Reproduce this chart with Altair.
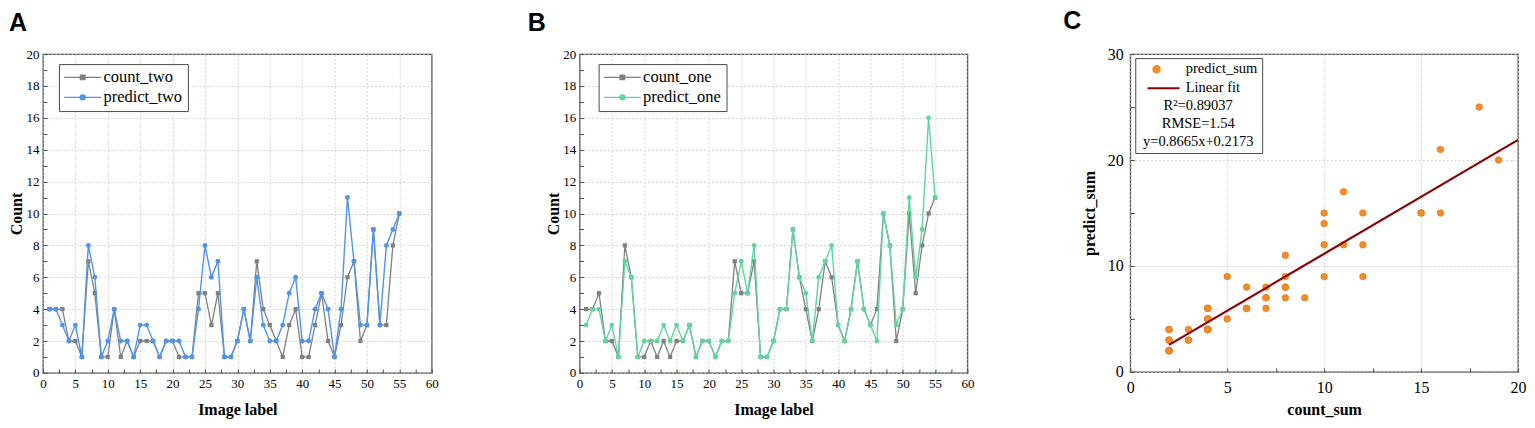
import altair as alt
import pandas as pd

# ---------------- data ----------------
image_label = list(range(1, 56))
count_two = [4,4,4,2,2,1,7,5,1,1,4,1,2,1,2,2,2,1,2,2,1,1,1,5,5,3,5,1,1,2,
             4,2,7,4,3,2,1,3,4,1,1,3,5,2,1,3,6,7,2,3,9,3,3,8,10]
predict_two = [4,4,3,2,3,1,8,6,1,2,4,2,2,1,3,3,2,1,2,2,2,1,1,4,8,6,7,1,1,2,
               4,2,6,3,2,2,3,5,6,2,2,4,5,4,1,4,11,7,3,3,9,3,8,9,10]
count_one = [4,4,5,2,2,1,8,6,1,1,2,1,2,1,2,2,3,1,2,2,1,2,2,7,5,5,7,1,1,2,
             4,4,9,6,4,2,4,7,6,3,2,4,7,4,3,4,10,8,2,4,10,5,8,10,11]
predict_one = [3,4,4,2,3,1,7,6,1,2,2,2,3,2,3,2,3,1,2,2,1,2,2,5,7,5,8,1,1,2,
               4,4,9,6,5,2,6,7,8,3,2,4,7,4,3,2,10,8,3,4,11,6,9,16,11]
count_sum = [8,8,9,4,4,2,15,11,2,2,6,2,4,2,4,4,5,2,4,4,2,3,3,12,10,8,12,2,2,4,
             8,6,16,10,7,4,5,10,10,4,3,7,12,6,4,7,16,15,4,7,19,8,11,18,21]
predict_sum = [7,8,7,4,6,2,15,12,2,4,6,4,5,3,6,5,5,2,4,4,3,3,3,9,15,11,15,2,2,4,
               8,6,15,9,7,4,9,12,14,5,4,8,12,8,4,6,21,15,6,7,20,9,17,25,21]
fit_x = [2, 20]
fit_y = [2.55, 21.9]
fit_text = ["R\u00b2=0.89037", "RMSE=1.54", "y=0.8665x+0.2173"]

# ---------------- styles ----------------
SERIF = "Liberation Serif"
SANS = "Liberation Sans"
GRID = "#c8c8c8"
FRAME = "#4a4a4a"
GRAY = "#808080"
BLUE = "#4f94ee"
GREEN = "#5fd69c"
ORANGE = "#f28c28"
DARKRED = "#8b0000"

LINE_SQUARE = "M-1.6,0H5.8M1.65,-0.45H2.55V0.45H1.65Z"
LINE_CIRCLE = "M-1.6,0H5.8M2.6,0A0.5,0.5,0,1,1,1.6,0A0.5,0.5,0,1,1,2.6,0Z"
DOT = "M2.65,0A0.65,0.65,0,1,1,1.35,0A0.65,0.65,0,1,1,2.65,0Z"
LINE_ONLY = "M0.2,0H6.6"


def main_axis(values, title, lsize, title_pad, lab_pad):
    return alt.Axis(values=values, title=title, grid=True, gridColor=GRID,
                    gridDash=[2, 2], gridWidth=0.8, domain=False, ticks=False,
                    labelFont=SERIF, labelFontSize=lsize, labelColor="black",
                    labelPadding=lab_pad, labelFlush=False, labelOverlap=False,
                    titleFont=SERIF, titleFontSize=16, titleFontWeight="bold",
                    titleColor="black", titlePadding=title_pad)


def tick_axis(values, orient):
    return alt.Axis(values=values, labels=False, grid=False, domain=False,
                    ticks=True, tickSize=4, tickColor=FRAME, tickWidth=1,
                    offset=-4, title=None, orient=orient)


def letter_title(letter, dx):
    return alt.TitleParams(text=letter, anchor="start", frame="bounds", font=SANS,
                           fontSize=25, fontWeight="bold", color="black",
                           offset=12, dx=dx)


def line_panel(letter, key, cname, pname, cvals, pvals, pcolor, leg_x, leg_y, dx, width):
    df = pd.DataFrame({"label": image_label, "c": cvals, "p": pvals})
    xa = main_axis(list(range(0, 61, 5)), "Image label", 13, 11, 5)
    ya = main_axis(list(range(0, 21, 2)), "Count", 13, 1, 4)
    X = alt.X("label:Q", scale=alt.Scale(domain=[0, 60], nice=False), axis=xa)
    ysc = alt.Scale(domain=[0, 20], nice=False)
    base = alt.Chart(df)
    gl = base.mark_line(color=GRAY, strokeWidth=1.3).encode(
        x=X, y=alt.Y("c:Q", scale=ysc, axis=ya))
    gp = base.mark_point(shape="square", filled=True, size=18, color=GRAY,
                         opacity=1).encode(x=X, y=alt.Y("c:Q", scale=ysc, axis=ya))
    pl = base.mark_line(color=pcolor, strokeWidth=1.4).encode(
        x=X, y=alt.Y("p:Q", scale=ysc, axis=ya))
    pp = base.mark_point(shape="circle", filled=True, size=24, color=pcolor,
                         opacity=1).encode(x=X, y=alt.Y("p:Q", scale=ysc, axis=ya))
    main = alt.layer(gl, gp, pl, pp)

    dom = [cname, pname]
    field = "series_" + key + ":N"
    leg = alt.Legend(title=None, orient="none", legendX=leg_x, legendY=leg_y,
                     strokeColor=FRAME, fillColor="white", padding=5,
                     symbolSize=100, symbolStrokeWidth=1.4, labelOffset=23,
                     labelFont=SERIF, labelFontSize=16.5, labelColor="black",
                     labelExpr="datum.label + '   '",
                     rowPadding=3, symbolOpacity=1)
    aux = base.mark_point(opacity=1).encode(
        x=alt.X("label:Q", axis=tick_axis([i * 2.5 for i in range(25)], "bottom")),
        y=alt.Y("c:Q", axis=tick_axis(list(range(0, 21)), "left")),
        fill=alt.Fill(field, scale=alt.Scale(domain=dom, range=[GRAY, pcolor]), legend=leg),
        stroke=alt.Stroke(field, scale=alt.Scale(domain=dom, range=[GRAY, pcolor]), legend=leg),
        shape=alt.Shape(field, scale=alt.Scale(domain=dom, range=[LINE_SQUARE, LINE_CIRCLE]), legend=leg),
    ).transform_filter("false")

    return alt.layer(main, aux).resolve_axis(x="independent", y="independent").properties(
        width=width, height=319, title=letter_title(letter, dx))


panel_a = line_panel("A", "a", "count_two", "predict_two", count_two, predict_two, BLUE,
                     16, 10, 0, 389)
panel_b = line_panel("B", "b", "count_one", "predict_one", count_one, predict_one, GREEN,
                     19, 10, -18, 388)

# ---------------- panel C ----------------
df_c = pd.DataFrame({"count_sum": count_sum, "predict_sum": predict_sum})
df_fit = pd.DataFrame({"count_sum": fit_x, "predict_sum": fit_y})
xc = main_axis([0, 5, 10, 15, 20], "count_sum", 16, 6, 8)
yc = main_axis([0, 10, 20, 30], "predict_sum", 16, 10, 7)
XC = alt.X("count_sum:Q", scale=alt.Scale(domain=[0, 20], nice=False), axis=xc)
YC = alt.Y("predict_sum:Q", scale=alt.Scale(domain=[0, 30], nice=False), axis=yc)
pts = alt.Chart(df_c).mark_point(shape="circle", filled=True, size=44, fill=ORANGE,
                                 stroke="#e07610", strokeWidth=0.6, opacity=1,
                                 clip=True).encode(x=XC, y=YC)
fit = alt.Chart(df_fit).mark_line(color=DARKRED, strokeWidth=2.2).encode(x=XC, y=YC)
main_c = alt.layer(pts, fit)
dom_c = ["predict_sum", "Linear fit"]
leg_c = alt.Legend(title=fit_text, titleOrient="bottom", titleAnchor="middle",
                   titleFont=SERIF, titleFontSize=14.5, titleFontWeight="normal",
                   titleColor="black", titleLineHeight=18, titlePadding=4,
                   orient="none", legendX=5, legendY=4,
                   strokeColor=FRAME, fillColor="white", padding=4,
                   symbolSize=100, symbolStrokeWidth=2, labelOffset=32,
                   labelFont=SERIF, labelFontSize=14.5, labelColor="black",
                   rowPadding=3, symbolOpacity=1)
aux_c = alt.Chart(df_c).mark_point(opacity=1).encode(
    x=alt.X("count_sum:Q", axis=tick_axis([i * 2.5 for i in range(9)], "bottom")),
    y=alt.Y("predict_sum:Q", axis=tick_axis(list(range(0, 31, 5)), "left")),
    fill=alt.Fill("series_c:N", scale=alt.Scale(domain=dom_c, range=[ORANGE, "transparent"]), legend=leg_c),
    stroke=alt.Stroke("series_c:N", scale=alt.Scale(domain=dom_c, range=[ORANGE, DARKRED]), legend=leg_c),
    shape=alt.Shape("series_c:N", scale=alt.Scale(domain=dom_c, range=[DOT, LINE_ONLY]), legend=leg_c),
).transform_filter("false")
panel_c = alt.layer(main_c, aux_c).resolve_axis(x="independent", y="independent").properties(
    width=388, height=318, title=letter_title("C", -18))

inner = alt.hconcat(panel_a, panel_b, spacing=87).resolve_scale(
    fill="independent", stroke="independent", shape="independent").resolve_legend(
    fill="independent", stroke="independent", shape="independent")
chart = alt.hconcat(inner, panel_c, spacing=87).resolve_scale(
    fill="independent", stroke="independent", shape="independent").resolve_legend(
    fill="independent", stroke="independent", shape="independent").configure_view(
    stroke=FRAME, strokeWidth=1.3
).configure_axis(labelFont=SERIF, titleFont=SERIF).properties(
    padding={"left": 0, "top": 0, "right": 0, "bottom": 0}, background="white")

chart.save("out.html", embed_options={"renderer": "svg", "actions": False})
